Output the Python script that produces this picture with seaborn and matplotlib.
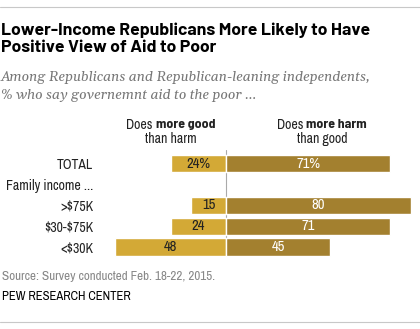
import matplotlib
matplotlib.use("Agg")
import matplotlib.pyplot as plt
import seaborn as sns
import pandas as pd
import numpy as np
from matplotlib.lines import Line2D

categories = ["TOTAL", "Family income ...", ">$75K", "$30-$75K", "<$30K"]
good = [24, np.nan, 15, 24, 48]
harm = [71, np.nan, 80, 71, 45]
good_labels = ["24%", "", "15", "24", "48"]
harm_labels = ["71%", "", "80", "71", "45"]

GOLD = "#D3A936"
DARK = "#A3802F"

sns.set_theme(style="white")
NARROW = ["Archivo Narrow", "DejaVu Sans"]
BOLDN = ["Barlow Semi Condensed", "DejaVu Sans"]
TITLE = ["Barlow", "Barlow Semi Condensed", "DejaVu Sans"]
SERIF = ["Gelasio", "DejaVu Serif"]
plt.rcParams["font.family"] = NARROW
plt.rcParams["font.stretch"] = "condensed"
plt.rcParams["text.parse_math"] = False

W, H = 420, 329
fig = plt.figure(figsize=(W / 100, H / 100), dpi=100)
fig.canvas.draw()
r = fig.canvas.get_renderer()

def px(x, y):
    return x / W, 1 - y / H

def fit(t, target):
    fs = t.get_fontsize()
    w = t.get_window_extent(r).width
    t.set_fontsize(fs * target / w)
    return t.get_fontsize()

tmp = fig.text(0, 0, "Family income ...", fontsize=10)
cat_fs = fit(tmp, 87)
tmp.remove()
tmp = fig.text(0, 0, "24%", fontsize=10)
val_fs = fit(tmp, 24)
tmp.remove()

ax_left, ax_right, ax_top, ax_bot = 100, 415, 150, 257
ax = fig.add_axes([ax_left / W, 1 - ax_bot / H, (ax_right - ax_left) / W, (ax_bot - ax_top) / H])

df = pd.DataFrame({"cat": categories, "good": [-g for g in good], "harm": harm})
sns.barplot(data=df, x="good", y="cat", order=categories, color=GOLD, saturation=1,
            width=0.82, ax=ax, orient="h")
sns.barplot(data=df, x="harm", y="cat", order=categories, color=DARK, saturation=1,
            width=0.82, ax=ax, orient="h")

scale = 2.31
ax.set_xlim(-(226 - ax_left) / scale, (ax_right - 226) / scale)
spacing = 20.85
ax.set_ylim(4 + (ax_bot - 247) / spacing, -(163.5 - ax_top) / spacing)
ax.axvline(0, color="#AAAAAA", lw=0.8, zorder=0.5)
for s in ax.spines.values():
    s.set_visible(False)
ax.set_xticks([])
ax.set_xlabel("")
ax.set_ylabel("")
ax.tick_params(axis="y", length=0, pad=5, labelsize=cat_fs, labelcolor="#222222")

for i, (g, h, gl, hl) in enumerate(zip(good, harm, good_labels, harm_labels)):
    if np.isnan(g):
        continue
    ax.text(-g / 2, i, gl, ha="center", va="center", fontsize=val_fs, color="#222222")
    ax.text(h / 2, i, hl, ha="center", va="center", fontsize=val_fs, color="white")

fig.add_artist(Line2D([0, 1], [1 - 7 / H, 1 - 7 / H], color="#C8C8C8", lw=0.8))
fig.add_artist(Line2D([0, 1], [1 - 322 / H, 1 - 322 / H], color="#C8C8C8", lw=0.8))

t1 = fig.text(*px(1, 30), "Lower-Income Republicans More Likely to Have", fontsize=13,
              fontweight="bold", va="center", ha="left", color="black",
              family=TITLE, stretch="normal")
fit(t1, 371)
fig.text(*px(1, 48), "Positive View of Aid to Poor", fontsize=t1.get_fontsize(),
         fontweight="bold", va="center", ha="left", color="black",
         family=TITLE, stretch="normal")
s1 = fig.text(*px(1, 77), "Among Republicans and Republican-leaning independents,", fontsize=10.5,
              style="italic", va="center", ha="left", color="#777777",
              family=SERIF, stretch="normal")
fit(s1, 370)
fig.text(*px(1, 96), "% who say governemnt aid to the poor ...", fontsize=s1.get_fontsize(),
         style="italic", va="center", ha="left", color="#777777",
         family=SERIF, stretch="normal")

def mixed(cx, y, parts, fs):
    texts = []
    for t, bold in parts:
        if bold:
            texts.append(fig.text(0, 0, t, fontsize=fs, fontweight="bold", va="center",
                                  ha="left", color="#222222", family=BOLDN,
                                  stretch="semi-condensed"))
        else:
            texts.append(fig.text(0, 0, t, fontsize=fs, va="center", ha="left",
                                  color="#222222"))
    widths = [tx.get_window_extent(r).width for tx in texts]
    total = sum(widths)
    x = cx - total / 2
    for tx, wd in zip(texts, widths):
        tx.set_position((x / W, 1 - y / H))
        x += wd

hfs = cat_fs
mixed(171, 125, [("Does ", False), ("more good", True)], hfs)
mixed(322, 125, [("Does ", False), ("more harm", True)], hfs)
fig.text(*px(171, 139), "than harm", fontsize=hfs, va="center", ha="center", color="#222222")
fig.text(*px(322, 139), "than good", fontsize=hfs, va="center", ha="center", color="#222222")

src = fig.text(*px(2, 277), "Source: Survey conducted Feb. 18-22, 2015.", fontsize=8.5,
               va="center", ha="left", color="#888888")
fit(src, 215)
pew = fig.text(*px(2, 297), "PEW RESEARCH CENTER", fontsize=8.5,
               va="center", ha="left", color="black")
fit(pew, 130)

fig.savefig("out.png", dpi=100)
